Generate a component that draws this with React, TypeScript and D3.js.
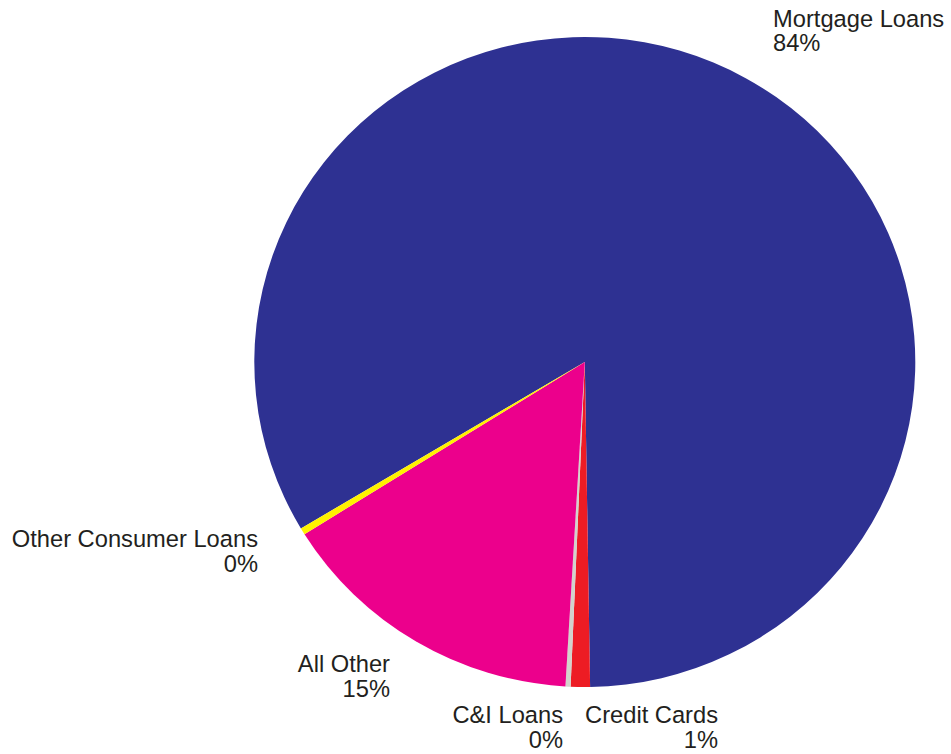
import React from "react";
import * as d3 from "d3";

const categories = ["Mortgage Loans", "Credit Cards", "C&I Loans", "All Other", "Other Consumer Loans"];
const values = [83.3, 0.94, 0.25, 15.18, 0.33];
const pctLabels = ["84%", "1%", "0%", "15%", "0%"];
const colors = ["#2E3192", "#ED1C24", "#D2D3CC", "#EC008C", "#FFF200"];

// label layout (anchor, x, first baseline)
const labelLayout = [
  { anchor: "start", x: 773, y: 26.5 },
  { anchor: "end", x: 718, y: 723 },
  { anchor: "end", x: 563, y: 723 },
  { anchor: "end", x: 390, y: 672 },
  { anchor: "end", x: 258, y: 547 },
];

const W = 951;
const H = 754;
const cx = 584.8;
const cy = 362;
const rx = 330.5;
const ry = 325;
const startDeg = -120.8;

export default function App() {
  const data = categories.map((c, i) => ({ name: c, value: values[i], color: colors[i], pct: pctLabels[i] }));
  const pie = d3
    .pie<any>()
    .sort(null)
    .value((d: any) => d.value)
    .startAngle((startDeg * Math.PI) / 180)
    .endAngle(((startDeg + 360) * Math.PI) / 180);
  const arcs = pie(data);
  const arc = d3.arc<any>().innerRadius(0).outerRadius(rx);
  return (
    <svg
      width={W}
      height={H}
      style={{ position: "absolute", left: 0, top: 0, background: "#fff" }}
      fontFamily="'Liberation Sans', Arial, sans-serif"
    >
      <g transform={`translate(${cx},${cy}) scale(1,${ry / rx})`}>
        {arcs.map((a, i) => (
          <path key={i} d={arc(a) as string} fill={a.data.color} />
        ))}
      </g>
      {data.map((d, i) => {
        const l = labelLayout[i];
        return (
          <text key={i} x={l.x} y={l.y} textAnchor={l.anchor as any} fontSize={23.7} fill="#231F20">
            <tspan x={l.x}>{d.name}</tspan>
            <tspan x={l.x} dy={24.8}>{d.pct}</tspan>
          </text>
        );
      })}
    </svg>
  );
}
